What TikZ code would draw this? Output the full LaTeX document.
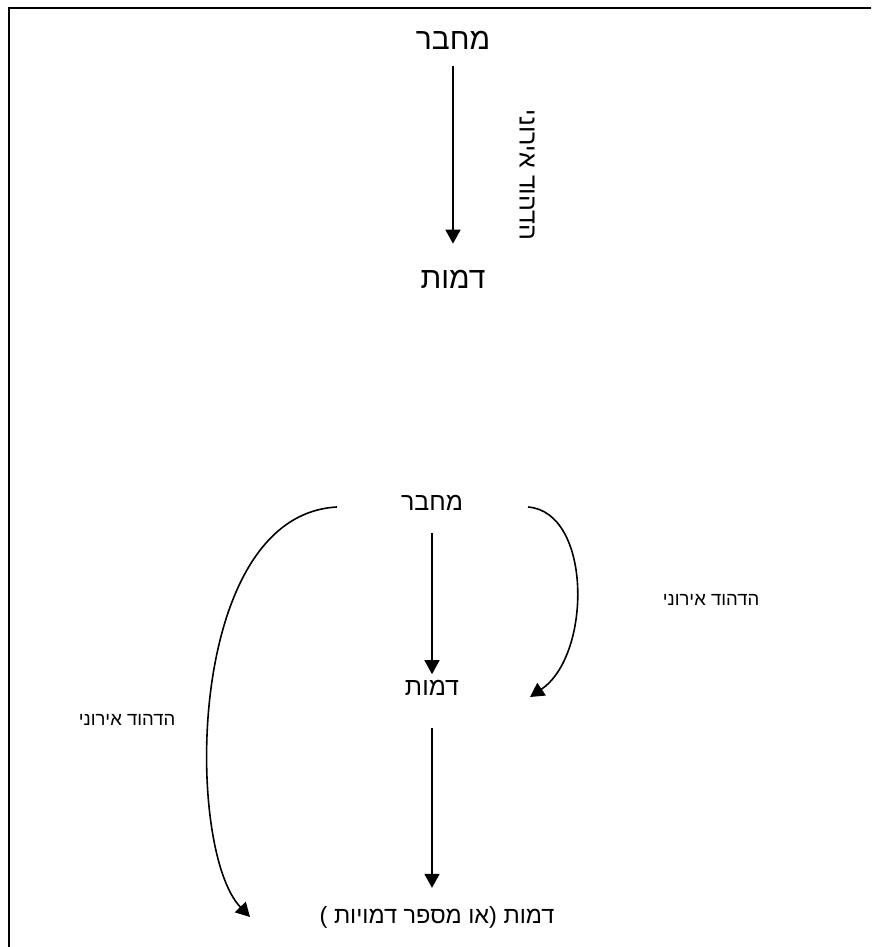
\documentclass[tikz,border=0pt]{standalone}
\usepackage{fontspec}
\setmainfont{Liberation Sans}
\newfontfamily\hebfont[Script=Hebrew]{Liberation Sans}
\TeXXeTstate=1
\usetikzlibrary{arrows.meta, positioning, calc}

\newcommand{\heb}[1]{\hebfont\beginR #1\endR}

\tikzset{
    % text nodes
    bigWord/.style={inner sep=0pt, font=\hebfont\fontsize{30}{36}\selectfont},
    midWord/.style={inner sep=0pt, font=\hebfont\fontsize{25}{30}\selectfont},
    smallWord/.style={inner sep=0pt, font=\hebfont\fontsize{18.5}{22}\selectfont},
    % connectors
    arrowDown/.style={-{Triangle[length=14pt,width=15pt]}, line width=1.6pt},
    arrowBend/.style={-{Triangle[length=14pt,width=15pt]}, line width=1.6pt},
    frameLine/.style={line width=2.2pt}
}

\begin{document}
\begin{tikzpicture}[x=1pt, y=-1pt]
    \useasboundingbox (0,0) rectangle (871,947);
    \draw[frameLine] (871,8) -- (9,8) -- (9,947);

    % upper pair
    \node[bigWord] (author1) at (453,40) {\heb{מחבר}};
    \node[bigWord] (char1) at (453,279) {\heb{דמות}};
    \node[midWord, rotate=-90] (echo1) at (527,175) {\heb{הדהוד אירוני}};
    \draw[arrowDown] ([yshift=-17pt]author1.south) -- ([yshift=26pt]char1.north);

    % lower chain
    \node[midWord] (author2) at (432,503) {\heb{מחבר}};
    \node[midWord] (char2) at (432,688) {\heb{דמות}};
    \node[midWord, font=\hebfont\fontsize{23.5}{28}\selectfont] (chars) at (437,917) {\heb{דמות (או מספר דמויות )}};
    \node[smallWord] (echoR) at (711,600) {\heb{הדהוד אירוני}};
    \node[smallWord] (echoL) at (127,720) {\heb{הדהוד אירוני}};
    \draw[arrowDown] ([yshift=-22pt]author2.south) -- ([yshift=6pt]char2.north);
    \draw[arrowDown] ([yshift=-32pt]char2.south) -- ([yshift=18pt]char2.south |- chars.north);

    % ironic echo loops
    \coordinate (loopR) at (528,507);
    \coordinate (loopRend) at (530,697);
    \coordinate (loopL) at (337,507);
    \coordinate (loopLend) at (250,917);
    \draw[arrowBend] (loopR) .. controls (592,512) and (592,655) .. (loopRend);
    \draw[arrowBend] (loopL) .. controls (185,515) and (185,850) .. (loopLend);
\end{tikzpicture}
\end{document}
